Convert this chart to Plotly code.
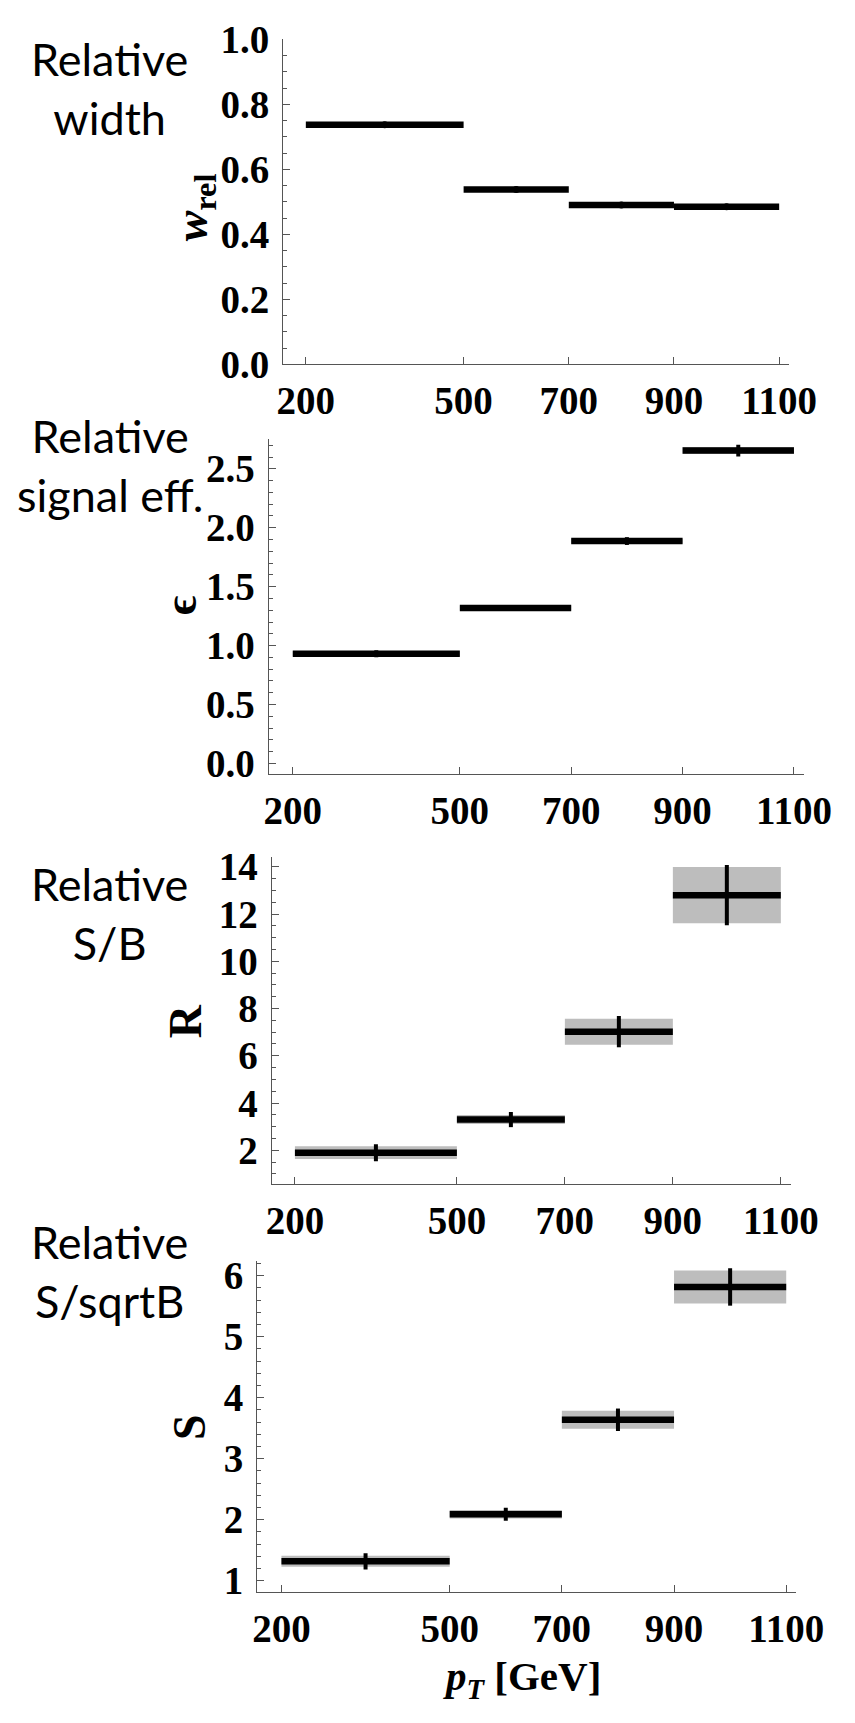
import plotly.graph_objects as go

W, H = 855, 1723

# ---------------- data ----------------
bin_lo = [200, 500, 700, 900]
bin_hi = [500, 700, 900, 1100]
x_ticks = [200, 500, 700, 900, 1100]

w_rel = [0.738, 0.538, 0.491, 0.485]
w_rel_err = [0.004, 0.004, 0.004, 0.004]

eff = [0.931, 1.320, 1.887, 2.655]
eff_err = [0.030, 0.022, 0.033, 0.050]
eff_band = [0.020, 0.020, 0.020, 0.030]

sb = [1.90, 3.30, 7.02, 12.80]
sb_err = [0.36, 0.32, 0.66, 1.28]
sb_band = [0.27, 0.19, 0.55, 1.19]

ssb = [1.319, 2.09, 3.638, 5.814]
ssb_err = [0.133, 0.106, 0.184, 0.306]
ssb_band = [0.09, 0.07, 0.146, 0.27]

left_labels = ["Relative<br>width", "Relative<br>signal eff.", "Relative<br>S/B", "Relative<br>S/sqrtB"]
y_titles = ["<b><i>w</i><sub>rel</sub></b>", "<b>\u03f5</b>", "<b>R</b>", "<b>S</b>"]

# ---------------- layout geometry (pixels) ----------------
panels = [
    dict(vals=w_rel, err=w_rel_err, band=None, yr=[0, 1.003], dt=0.2, mdt=0.05, fmt=".1f",
         xl=288, xr=815, yt=19, yb=353, lab_y=70, yt_x=196, yt_y=192, marker=7),
    dict(vals=eff, err=eff_err, band=eff_band, yr=[-0.091, 2.757], dt=0.5, mdt=0.1, fmt=".1f",
         xl=273, xr=831, yt=429, yb=773, lab_y=457, yt_x=181, yt_y=600, marker=1),
    dict(vals=sb, err=sb_err, band=sb_band, yr=[0.577, 14.41], dt=2, mdt=0.5, fmt="d",
         xl=276, xr=817, yt=858, yb=1193, lab_y=916, yt_x=187, yt_y=1026, marker=1),
    dict(vals=ssb, err=ssb_err, band=ssb_band, yr=[0.82, 6.24], dt=1, mdt=0.2, fmt="d",
         xl=261, xr=823, yt=1272, yb=1611, lab_y=1283, yt_x=191, yt_y=1442, marker=1),
]
x_range = [157, 1118]

fig = go.Figure()
axis_col = "#555555"
tick_font = dict(family="Liberation Serif", size=39, color="black", weight="bold")

for i, p in enumerate(panels):
    n = "" if i == 0 else str(i + 1)
    xa, ya = "x" + n, "y" + n
    centers = [(a + b) / 2 for a, b in zip(bin_lo, bin_hi)]
    halfw = [(b - a) / 2 for a, b in zip(bin_lo, bin_hi)]

    if p["band"] is not None:
        bx, by = [], []
        for a, b, v, e in zip(bin_lo, bin_hi, p["vals"], p["band"]):
            bx += [a, b, b, a, a, None]
            by += [v - e, v - e, v + e, v + e, v - e, None]
        fig.add_trace(go.Scatter(x=bx, y=by, xaxis=xa, yaxis=ya, mode="lines",
                                 fill="toself", fillcolor="#bdbdbd",
                                 line=dict(width=0, color="#bdbdbd"),
                                 hoverinfo="skip", showlegend=False))

    fig.add_trace(go.Scatter(
        x=centers, y=p["vals"], xaxis=xa, yaxis=ya, mode="markers",
        marker=dict(size=p["marker"], color="black"),
        error_x=dict(type="data", array=halfw, thickness=6.5, width=0, color="black"),
        error_y=dict(type="data", array=p["err"], thickness=4, width=0, color="black"),
        showlegend=False))

    xd = [p["xl"] / W, p["xr"] / W]
    yd = [1 - p["yb"] / H, 1 - p["yt"] / H]
    fig.layout["xaxis" + n] = dict(
        domain=xd, range=x_range, anchor=ya, tickvals=x_ticks,
        ticks="inside", ticklen=7, tickwidth=1.2, tickcolor=axis_col,
        showline=True, linecolor=axis_col, linewidth=1.3, showgrid=False, zeroline=False,
        tickfont=tick_font, ticklabelstandoff=2)
    fig.layout["yaxis" + n] = dict(
        domain=yd, range=p["yr"], anchor=xa, dtick=p["dt"], tick0=0, tickformat=p["fmt"],
        ticks="inside", ticklen=7, tickwidth=1.2, tickcolor=axis_col,
        minor=dict(dtick=p["mdt"], tick0=0, ticks="inside", ticklen=4, tickwidth=1, tickcolor=axis_col,
                   showgrid=False),
        showline=True, linecolor=axis_col, linewidth=1.3, showgrid=False, zeroline=False,
        tickfont=tick_font, ticklabelstandoff=5)

    fig.add_annotation(text=left_labels[i], xref="paper", yref="paper",
                       x=107 / W, y=1 - p["lab_y"] / H, xanchor="center", yanchor="middle",
                       align="center", showarrow=False,
                       font=dict(family="Lato", size=45, color="black"))
    fig.add_annotation(text=y_titles[i], xref="paper", yref="paper",
                       x=p["yt_x"] / W, y=1 - p["yt_y"] / H, xanchor="center", yanchor="middle",
                       textangle=-90, showarrow=False,
                       font=dict(family="Liberation Serif", size=46, color="black"))

fig.add_annotation(text="<b><i>p</i><sub><i>T</i></sub> [GeV]</b>", xref="paper", yref="paper",
                   x=537 / W, y=1 - 1700 / H, xanchor="center", yanchor="middle",
                   showarrow=False, font=dict(family="Liberation Serif", size=41, color="black"))

fig.update_layout(width=W, height=H, margin=dict(l=0, r=0, t=0, b=0),
                  paper_bgcolor="white", plot_bgcolor="white")

fig.write_html("out.html")
